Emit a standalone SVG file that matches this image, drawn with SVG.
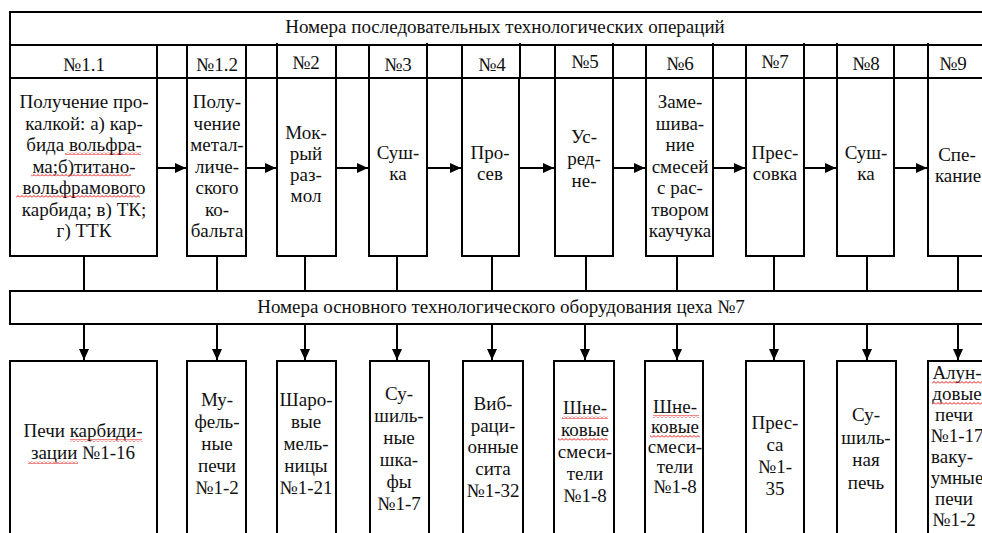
<svg xmlns="http://www.w3.org/2000/svg" width="982" height="533" viewBox="0 0 982 533">
<defs>
<style>
.box{fill:#fff;stroke:#000;stroke-width:2}
.ln{stroke:#000;stroke-width:2;fill:none}
.t{font-family:'Liberation Serif','Times New Roman',serif;font-size:19px;fill:#111;text-anchor:middle}
.sq{fill:url(#wave)}
</style>
<marker id="ah" markerUnits="userSpaceOnUse" markerWidth="11" markerHeight="10" refX="11" refY="5" orient="auto">
<path d="M0,0 L11,5 L0,10 z" fill="#000"/>
</marker>
<pattern id="wave" patternUnits="userSpaceOnUse" width="4" height="3">
<path d="M0,2.5 L2,0.5 L4,2.5" stroke="#e01010" stroke-width="1" fill="none"/>
</pattern>
</defs>
<rect width="982" height="533" fill="#fff"/>

<g id="header-ops">
<rect class="box" x="10" y="12" width="990" height="33"/>
<text class="t" x="505" y="33">Номера последовательных технологических операций</text>
</g>

<g id="number-row">
<rect class="box" x="10" y="45" width="990" height="33"/>
<path class="ln" d="M157,45V78 M187,45V78 M246,45V78 M277,43V78 M336,45V78 M369,45V78 M427,43V78 M462,45V78 M520,43V78 M555,45V78 M613,43V78 M646,45V78 M713,43V78 M746,45V78 M804,43V78 M837,43V78 M894,45V78 M928,43V78"/>
<text class="t" x="84" y="71">№1.1</text>
<text class="t" x="217" y="71">№1.2</text>
<text class="t" x="306" y="69">№2</text>
<text class="t" x="398" y="71">№3</text>
<text class="t" x="492" y="71">№4</text>
<text class="t" x="585" y="68">№5</text>
<text class="t" x="680" y="70">№6</text>
<text class="t" x="775" y="68">№7</text>
<text class="t" x="866" y="70">№8</text>
<text class="t" x="953" y="70">№9</text>
</g>

<g id="op11">
<rect class="box" x="10" y="78" width="147" height="178"/>
<text class="t"><tspan x="84" y="108">Получение про-</tspan><tspan x="84" y="129.5">калкой: а) кар-</tspan><tspan x="84" y="151">бида вольфра-</tspan><tspan x="84" y="172.5">ма;б)титано-</tspan><tspan x="84" y="194">вольфрамового</tspan><tspan x="84" y="215.5">карбида; в) ТК;</tspan><tspan x="84" y="237">г) ТТК</tspan></text>
<rect class="sq" x="65" y="152" width="76" height="3"/>
<rect class="sq" x="31" y="173.5" width="100" height="3"/>
<rect class="sq" x="16" y="195" width="124" height="3"/>
</g>
<g id="op12">
<rect class="box" x="187" y="78" width="59" height="178"/>
<text class="t"><tspan x="217" y="108">Полу-</tspan><tspan x="217" y="129.5">чение</tspan><tspan x="217" y="151">метал-</tspan><tspan x="217" y="172.5">личе-</tspan><tspan x="217" y="194">ского</tspan><tspan x="217" y="215.5">ко-</tspan><tspan x="217" y="237">бальта</tspan></text>
</g>
<g id="op2">
<rect class="box" x="277" y="78" width="59" height="178"/>
<text class="t"><tspan x="306" y="139">Мок-</tspan><tspan x="306" y="160">рый</tspan><tspan x="306" y="181">раз-</tspan><tspan x="306" y="202">мол</tspan></text>
</g>
<g id="op3">
<rect class="box" x="369" y="78" width="58" height="178"/>
<text class="t"><tspan x="398" y="159">Суш-</tspan><tspan x="398" y="180">ка</tspan></text>
</g>
<g id="op4">
<rect class="box" x="462" y="78" width="57" height="178"/>
<text class="t"><tspan x="490" y="159">Про-</tspan><tspan x="490" y="180">сев</tspan></text>
</g>
<g id="op5">
<rect class="box" x="555" y="78" width="58" height="178"/>
<text class="t"><tspan x="584" y="143">Ус-</tspan><tspan x="584" y="165">ред-</tspan><tspan x="584" y="187">не-</tspan></text>
</g>
<g id="op6">
<rect class="box" x="646" y="78" width="67" height="178"/>
<text class="t"><tspan x="680" y="108">Заме-</tspan><tspan x="680" y="129.5">шива-</tspan><tspan x="680" y="151">ние</tspan><tspan x="680" y="172.5">смесей</tspan><tspan x="680" y="194">с рас-</tspan><tspan x="680" y="215.5">твором</tspan><tspan x="680" y="237">каучука</tspan></text>
</g>
<g id="op7">
<rect class="box" x="746" y="78" width="58" height="178"/>
<text class="t"><tspan x="775" y="159">Прес-</tspan><tspan x="775" y="180">совка</tspan></text>
</g>
<g id="op8">
<rect class="box" x="837" y="78" width="57" height="178"/>
<text class="t"><tspan x="866" y="159">Суш-</tspan><tspan x="866" y="180">ка</tspan></text>
</g>
<g id="op9">
<rect class="box" x="928" y="78" width="70" height="178"/>
<text class="t"><tspan x="957" y="161">Спе-</tspan><tspan x="958" y="182">кание</tspan></text>
</g>

<g id="header-equipment">
<rect class="box" x="10" y="291" width="990" height="33"/>
<text class="t" x="501" y="313">Номера основного технологического оборудования цеха №7</text>
</g>

<g id="eq1">
<rect class="box" x="10" y="361" width="147" height="185"/>
<text class="t"><tspan x="83" y="437">Печи карбиди-</tspan><tspan x="83" y="459">зации №1-16</tspan></text>
<rect class="sq" x="70" y="439" width="72" height="3"/>
<rect class="sq" x="28" y="461" width="50" height="3"/>
</g>
<g id="eq2">
<rect class="box" x="187" y="361" width="59" height="185"/>
<text class="t"><tspan x="217" y="406">Му-</tspan><tspan x="217" y="428">фель-</tspan><tspan x="217" y="450">ные</tspan><tspan x="217" y="472">печи</tspan><tspan x="217" y="494">№1-2</tspan></text>
</g>
<g id="eq3">
<rect class="box" x="277" y="361" width="59" height="185"/>
<text class="t"><tspan x="306" y="406">Шаро-</tspan><tspan x="306" y="428">вые</tspan><tspan x="306" y="450">мель-</tspan><tspan x="306" y="472">ницы</tspan><tspan x="306" y="494">№1-21</tspan></text>
</g>
<g id="eq4">
<rect class="box" x="370" y="361" width="59" height="185"/>
<text class="t"><tspan x="399" y="400">Су-</tspan><tspan x="399" y="422">шиль-</tspan><tspan x="399" y="444">ные</tspan><tspan x="399" y="466">шка-</tspan><tspan x="399" y="488">фы</tspan><tspan x="399" y="510">№1-7</tspan></text>
</g>
<g id="eq5">
<rect class="box" x="463" y="361" width="60" height="185"/>
<text class="t"><tspan x="493" y="410">Виб-</tspan><tspan x="493" y="432">раци-</tspan><tspan x="493" y="453">онные</tspan><tspan x="493" y="475">сита</tspan><tspan x="493" y="497">№1-32</tspan></text>
</g>
<g id="eq6">
<rect class="box" x="554" y="361" width="60" height="185"/>
<text class="t"><tspan x="585" y="414">Шне-</tspan><tspan x="585" y="436">ковые</tspan><tspan x="585" y="458">смеси-</tspan><tspan x="585" y="480">тели</tspan><tspan x="585" y="502">№1-8</tspan></text>
<rect class="sq" x="562" y="416" width="46" height="3"/>
<rect class="sq" x="558" y="438" width="50" height="3"/>
</g>
<g id="eq7">
<rect class="box" x="645" y="361" width="58" height="185"/>
<text class="t"><tspan x="675" y="413">Шне-</tspan><tspan x="675" y="433">ковые</tspan><tspan x="675" y="453">смеси-</tspan><tspan x="675" y="473">тели</tspan><tspan x="675" y="493">№1-8</tspan></text>
<rect class="sq" x="653" y="415" width="46" height="3"/>
<rect class="sq" x="650" y="435" width="50" height="3"/>
</g>
<g id="eq8">
<rect class="box" x="746" y="361" width="58" height="185"/>
<text class="t"><tspan x="775" y="429">Прес-</tspan><tspan x="775" y="451">са</tspan><tspan x="775" y="473">№1-</tspan><tspan x="775" y="495">35</tspan></text>
</g>
<g id="eq9">
<rect class="box" x="837" y="361" width="59" height="185"/>
<text class="t"><tspan x="866" y="421">Су-</tspan><tspan x="866" y="444">шиль-</tspan><tspan x="866" y="466">ная</tspan><tspan x="866" y="489">печь</tspan></text>
</g>
<g id="eq10">
<rect class="box" x="928" y="361" width="70" height="185"/>
<text class="t"><tspan x="957" y="379">Алун-</tspan><tspan x="957" y="400">довые</tspan><tspan x="954" y="421">печи</tspan><tspan x="957" y="442">№1-17</tspan><tspan x="952" y="463">ваку-</tspan><tspan x="957" y="484">умные</tspan><tspan x="954" y="505">печи</tspan><tspan x="954" y="526">№1-2</tspan></text>
<rect class="sq" x="932" y="381" width="52" height="3"/>
<rect class="sq" x="932" y="402" width="52" height="3"/>
</g>

<g id="connectors">
<path class="ln" marker-end="url(#ah)" d="M157,168H186"/>
<path class="ln" marker-end="url(#ah)" d="M246,168H276"/>
<path class="ln" marker-end="url(#ah)" d="M336,168H368"/>
<path class="ln" marker-end="url(#ah)" d="M427,168H461"/>
<path class="ln" marker-end="url(#ah)" d="M519,168H554"/>
<path class="ln" marker-end="url(#ah)" d="M613,168H645"/>
<path class="ln" marker-end="url(#ah)" d="M713,168H745"/>
<path class="ln" marker-end="url(#ah)" d="M804,168H836"/>
<path class="ln" marker-end="url(#ah)" d="M894,168H927"/>
<path class="ln" d="M84,256V291 M217,256V291 M305,256V291 M397,256V291 M492,256V291 M586,256V291 M677,256V291 M774,256V291 M867,256V291 M958,256V291"/>
<path class="ln" marker-end="url(#ah)" d="M84,324V360"/>
<path class="ln" marker-end="url(#ah)" d="M217,324V360"/>
<path class="ln" marker-end="url(#ah)" d="M305,324V360"/>
<path class="ln" marker-end="url(#ah)" d="M397,324V360"/>
<path class="ln" marker-end="url(#ah)" d="M492,324V360"/>
<path class="ln" marker-end="url(#ah)" d="M585,324V360"/>
<path class="ln" marker-end="url(#ah)" d="M677,324V360"/>
<path class="ln" marker-end="url(#ah)" d="M774,324V360"/>
<path class="ln" marker-end="url(#ah)" d="M867,324V360"/>
<path class="ln" marker-end="url(#ah)" d="M958,324V360"/>
</g>
</svg>
